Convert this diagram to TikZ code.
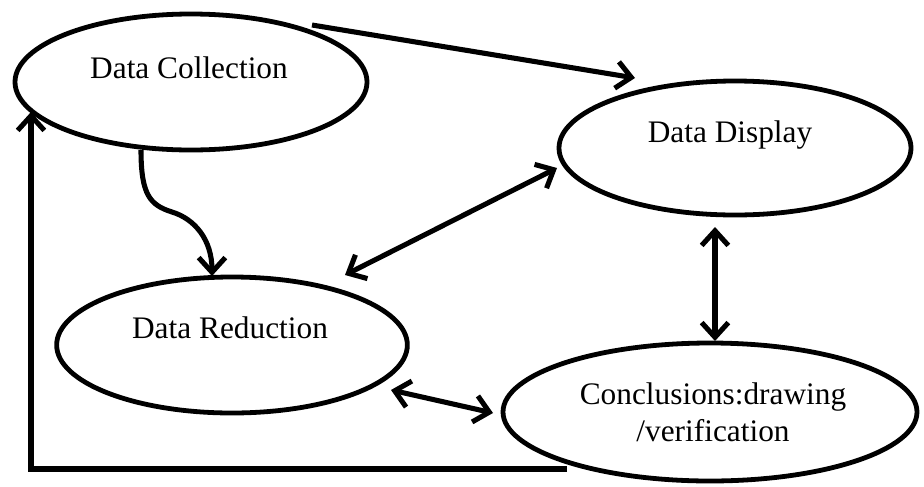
\documentclass[tikz,border=0pt]{standalone}
\usepackage{fontspec}
\setmainfont{Liberation Serif}
\usetikzlibrary{shapes.geometric,arrows.meta,calc}
\begin{document}
\begin{tikzpicture}[x=0.75pt,y=-0.75pt,
  oval/.style={ellipse,draw,line width=3.6pt,inner sep=0pt},
  lbl/.style={font=\fontsize{23.5}{28}\selectfont,anchor=base,inner sep=0pt,align=center},
  conn/.style={line width=3.8pt},
  >={Straight Barb[length=11pt,width=20pt]}
]
\useasboundingbox (0,0) rectangle (924,486);
\node[oval,minimum width=264pt,minimum height=102pt] (dc) at (191,82) {};
\node[oval,minimum width=264pt,minimum height=100.5pt] (dd) at (735,148) {};
\node[oval,minimum width=263pt,minimum height=102pt] (dr) at (232,345) {};
\node[oval,minimum width=310.5pt,minimum height=103.5pt] (cc) at (710,412) {};

\node[lbl] (dct) at (189,78) {Data Collection};
\node[lbl] (ddt) at (730,142) {Data Display};
\node[lbl] (drt) at (230,338) {Data Reduction};
\node[lbl,anchor=center] (cct) at (713,412) {Conclusions:drawing\\/verification};

\draw[conn,->] ($(dc)+(121,-57)$) -- ($(dd)+(-100,-70)$);
\draw[conn,->] ($(dc)+(-50,68)$) .. controls (141,195) and (150,205) .. (172,212)
   .. controls (195,219) and (212,240) .. ($(dr)+(-20,-69)$);
\draw[conn,<->] ($(dr)+(113,-70)$) -- ($(dd)+(-178,20)$);
\draw[conn,<->] ($(dd)+(-20,79)$) -- ($(cc)+(5,-71)$);
\draw[conn,<->] ($(dr)+(159,45)$) -- ($(cc)+(-217,1)$);
\draw[conn,->] ($(cc)+(-143,57)$) -| ($(dc)+(-160,30)$);
\end{tikzpicture}
\end{document}
